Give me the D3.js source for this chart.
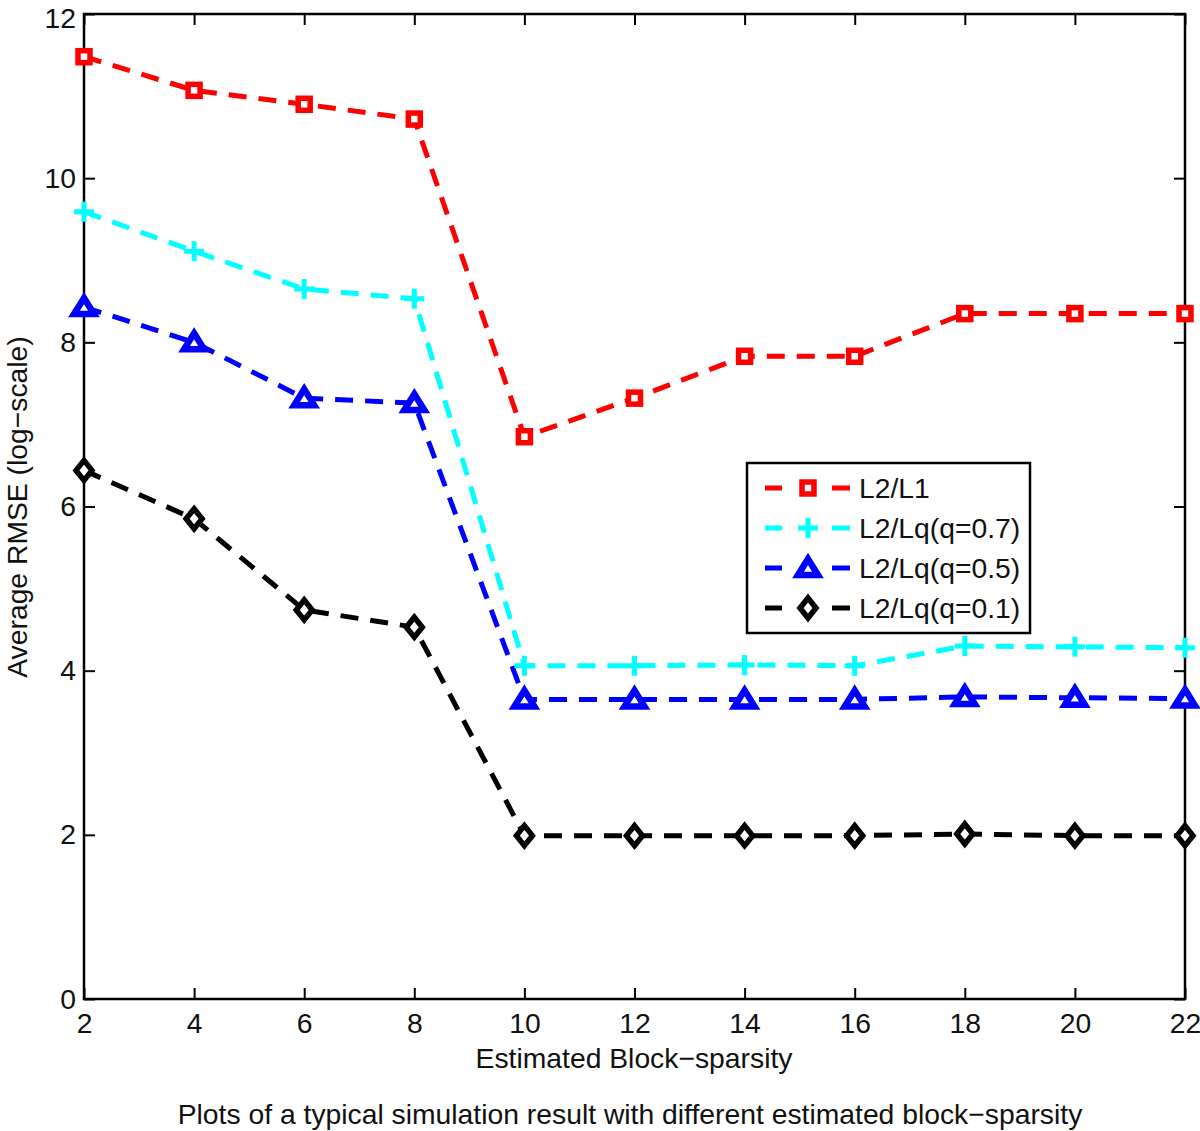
<!DOCTYPE html>
<html><head><meta charset="utf-8">
<script src="https://cdn.jsdelivr.net/npm/d3@7"></script>
<style>body{margin:0;background:#fff}svg{display:block}text{font-family:"Liberation Sans",Arial,sans-serif;fill:#111}</style>
</head><body><div id="c"></div>
<script>
const xs = [2,4,6,8,10,12,14,16,18,20,22];
const l2l1 = [11.48,11.07,10.90,10.72,6.85,7.32,7.83,7.83,8.35,8.35,8.35];
const lq07 = [9.59,9.11,8.65,8.53,4.06,4.06,4.07,4.06,4.30,4.29,4.28];
const lq05 = [8.43,8.00,7.32,7.26,3.65,3.65,3.65,3.65,3.68,3.67,3.66];
const lq01 = [6.44,5.85,4.74,4.53,1.99,1.99,1.99,1.99,2.01,1.99,1.99];
const seriesNames = ["L2/L1","L2/Lq(q=0.7)","L2/Lq(q=0.5)","L2/Lq(q=0.1)"];
const xTicks = [2,4,6,8,10,12,14,16,18,20,22];
const yTicks = [0,2,4,6,8,10,12];

const W=1200,H=1131;
const L=84,R=1185,T=14,B=999;
const FS=28.3;
const svg=d3.select("#c").append("svg").attr("width",W).attr("height",H);
const x=d3.scaleLinear().domain([2,22]).range([L,R]);
const y=d3.scaleLinear().domain([0,12]).range([B,T]);

const series=[
 {name:seriesNames[0],vals:l2l1,color:"#ff0000",marker:"square"},
 {name:seriesNames[1],vals:lq07,color:"#00ffff",marker:"plus"},
 {name:seriesNames[2],vals:lq05,color:"#0000ff",marker:"triangle"},
 {name:seriesNames[3],vals:lq01,color:"#000000",marker:"diamond"}
];

function drawMarker(g,type,cx,cy,color){
  if(type==="square"){
    g.append("rect").attr("x",cx-6).attr("y",cy-6).attr("width",12).attr("height",12)
     .attr("fill","#fff").attr("stroke",color).attr("stroke-width",5.5);
  } else if(type==="plus"){
    g.append("path").attr("d",`M${cx-10},${cy}H${cx+10}M${cx},${cy-10}V${cy+10}`)
     .attr("stroke",color).attr("stroke-width",5).attr("fill","none");
  } else if(type==="triangle"){
    g.append("path").attr("d",`M${cx},${cy-9}L${cx+10},${cy+7}L${cx-10},${cy+7}Z`)
     .attr("fill","#fff").attr("stroke",color).attr("stroke-width",6.5).attr("stroke-linejoin","miter");
  } else if(type==="diamond"){
    g.append("path").attr("d",`M${cx},${cy-10}L${cx+8},${cy}L${cx},${cy+10}L${cx-8},${cy}Z`)
     .attr("fill","#fff").attr("stroke",color).attr("stroke-width",5.5);
  }
}

// axes box
svg.append("rect").attr("x",L).attr("y",T).attr("width",R-L).attr("height",B-T)
  .attr("fill","none").attr("stroke","#000").attr("stroke-width",2.5);

const xAxisB=d3.axisBottom(x).tickValues(xTicks).tickSize(-11).tickPadding(14).tickFormat(d3.format("d"));
const gxb=svg.append("g").attr("transform",`translate(0,${B})`).call(xAxisB);
const xAxisT=d3.axisTop(x).tickValues(xTicks).tickSize(-11).tickFormat("");
const gxt=svg.append("g").attr("transform",`translate(0,${T})`).call(xAxisT);
const yAxisL=d3.axisLeft(y).tickValues(yTicks).tickSize(-11).tickPadding(8).tickFormat(d3.format("d"));
const gyl=svg.append("g").attr("transform",`translate(${L},0)`).call(yAxisL);
const yAxisR=d3.axisRight(y).tickValues(yTicks).tickSize(-11).tickFormat("");
const gyr=svg.append("g").attr("transform",`translate(${R},0)`).call(yAxisR);
[gxb,gxt,gyl,gyr].forEach(g=>{
  g.select(".domain").remove();
  g.selectAll(".tick line").attr("stroke","#000").attr("stroke-width",2);
  g.selectAll(".tick text").attr("font-size",FS).attr("fill","#111").style("font-family","Liberation Sans, Arial, sans-serif");
});
gxb.selectAll(".tick text").attr("y",14);
gyl.selectAll(".tick text").filter(d=>d===12).attr("y",4);

// lines
const line=d3.line().x((d,i)=>x(xs[i])).y(d=>y(d));
const plot=svg.append("g");
series.forEach(s=>{
  plot.append("path").datum(s.vals).attr("d",line).attr("fill","none")
    .attr("stroke",s.color).attr("stroke-width",5).attr("stroke-dasharray","18,12");
});
series.forEach(s=>{
  const g=plot.append("g");
  s.vals.forEach((v,i)=>drawMarker(g,s.marker,x(xs[i]),y(v),s.color));
});

// legend
const lg=svg.append("g");
lg.append("rect").attr("x",747).attr("y",463).attr("width",283).attr("height",170)
  .attr("fill","#fff").attr("stroke","#000").attr("stroke-width",2.5);
series.forEach((s,i)=>{
  const cy=488+i*40;
  lg.append("path").attr("d",`M765,${cy}H782M832,${cy}H850`).attr("stroke",s.color).attr("stroke-width",5);
  drawMarker(lg,s.marker,808,cy,s.color);
  lg.append("text").attr("x",859).attr("y",cy).attr("dy","0.36em").attr("font-size",FS).text(s.name);
});

// labels
svg.append("text").attr("x",634).attr("y",1068).attr("text-anchor","middle").attr("font-size",FS).text("Estimated Block\u2212sparsity");
svg.append("text").attr("transform","translate(27,507) rotate(-90)").attr("text-anchor","middle").attr("font-size",FS).text("Average RMSE (log\u2212scale)");
svg.append("text").attr("x",630).attr("y",1124).attr("text-anchor","middle").attr("font-size",FS).text("Plots of a typical simulation result with different estimated block\u2212sparsity");
</script></body></html>
